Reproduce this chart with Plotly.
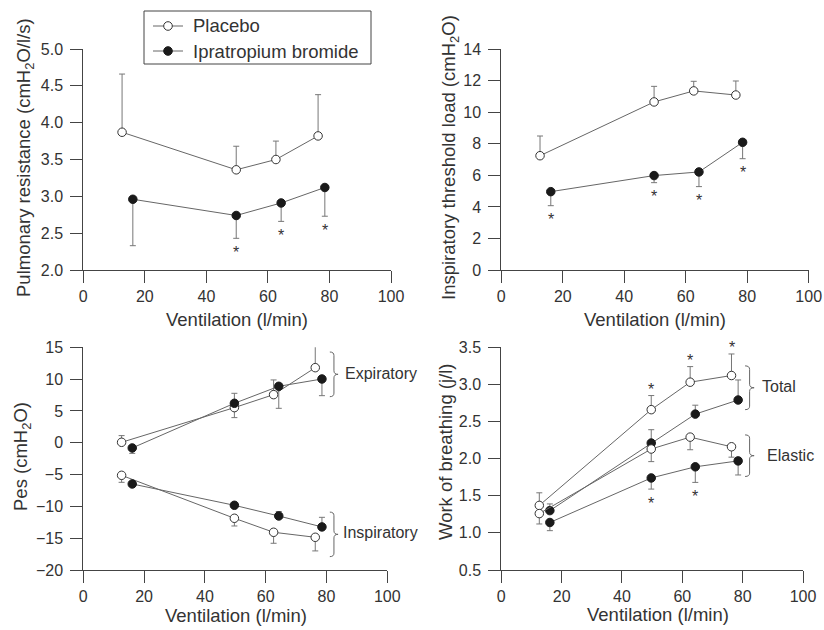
import plotly.graph_objects as go

# Ventilation (l/min) at each exercise stage
vent_placebo = [12.6, 49.7, 62.6, 76.3]
vent_ipra = [16.1, 49.7, 64.3, 78.5]

# Pulmonary resistance (cmH2O/l/s)
res_placebo = [3.87, 3.36, 3.50, 3.82]
res_placebo_err = [0.79, 0.32, 0.25, 0.56]
res_ipra = [2.96, 2.74, 2.91, 3.12]
res_ipra_err = [0.63, 0.31, 0.25, 0.39]
res_sig = [False, True, True, True]

# Inspiratory threshold load (cmH2O)
itl_placebo = [7.25, 10.66, 11.36, 11.10]
itl_placebo_err = [1.25, 0.99, 0.61, 0.89]
itl_ipra = [4.97, 5.99, 6.22, 8.10]
itl_ipra_err = [0.89, 0.45, 0.93, 1.04]
itl_sig = [True, True, True, True]

# Oesophageal pressure (cmH2O): expiratory and inspiratory peaks
pes_exp_placebo = [0.07, 5.52, 7.56, 11.80]
pes_exp_placebo_up = [1.05, 0.0, 2.31, 3.51]
pes_exp_placebo_dn = [0.0, 1.57, 0.0, 0.0]
pes_exp_ipra = [-0.82, 6.20, 8.87, 10.02]
pes_exp_ipra_up = [0.0, 1.57, 0.0, 0.0]
pes_exp_ipra_dn = [0.85, 0.0, 3.46, 2.62]
pes_insp_placebo = [-5.12, -11.87, -14.07, -14.86]
pes_insp_placebo_dn = [1.10, 1.21, 1.73, 2.14]
pes_insp_ipra = [-6.48, -9.83, -11.51, -13.23]
pes_insp_ipra_up = [0.0, 0.0, 0.70, 1.51]

# Work of breathing (J/l): total and elastic
wob_tot_placebo = [1.37, 2.66, 3.03, 3.12]
wob_tot_placebo_err = [0.17, 0.19, 0.21, 0.29]
wob_tot_ipra = [1.30, 2.21, 2.60, 2.79]
wob_tot_ipra_err = [0.09, 0.18, 0.12, 0.27]
wob_tot_sig = [False, True, True, True]
wob_el_placebo = [1.26, 2.13, 2.29, 2.16]
wob_el_placebo_err = [0.14, 0.17, 0.17, 0.14]
wob_el_ipra = [1.14, 1.74, 1.89, 1.97]
wob_el_ipra_err = [0.11, 0.15, 0.21, 0.19]
wob_el_sig = [False, True, True, False]

x_ticks = [0, 20, 40, 60, 80, 100]
legend_labels = ["Placebo", "Ipratropium bromide"]

FONT = "Liberation Sans, Arial, sans-serif"
TXT = "#333333"
AX = "#444444"
LINE = "#666666"
ERR = "#777777"
OPEN_EDGE = "#333333"
FILL = "#1a1a1a"
W, H = 824, 630

fig = go.Figure()


def err_dict(up, dn):
    return dict(type="data", symmetric=False, array=up, arrayminus=dn,
                color=ERR, thickness=1, width=3)


def series(xa, ya, x, y, up, dn, filled):
    zeros = [0.0] * len(y)
    fig.add_trace(go.Scatter(
        x=x, y=y, xaxis=xa, yaxis=ya, mode="lines+markers",
        line=dict(color=LINE, width=1),
        marker=dict(size=8.5, symbol="circle",
                    color=FILL if filled else "white",
                    line=dict(color=FILL if filled else OPEN_EDGE, width=1)),
        error_y=err_dict(up if up is not None else zeros, dn if dn is not None else zeros),
        cliponaxis=False, showlegend=False,
        name=legend_labels[1] if filled else legend_labels[0],
    ))


# Top left: pulmonary resistance
series("x", "y", vent_placebo, res_placebo, res_placebo_err, None, False)
series("x", "y", vent_ipra, res_ipra, None, res_ipra_err, True)
# Top right: inspiratory threshold load
series("x2", "y2", vent_placebo, itl_placebo, itl_placebo_err, None, False)
series("x2", "y2", vent_ipra, itl_ipra, None, itl_ipra_err, True)
# Bottom left: Pes
series("x3", "y3", vent_placebo, pes_exp_placebo, pes_exp_placebo_up, pes_exp_placebo_dn, False)
series("x3", "y3", vent_ipra, pes_exp_ipra, pes_exp_ipra_up, pes_exp_ipra_dn, True)
series("x3", "y3", vent_placebo, pes_insp_placebo, None, pes_insp_placebo_dn, False)
series("x3", "y3", vent_ipra, pes_insp_ipra, pes_insp_ipra_up, None, True)
# Bottom right: work of breathing
series("x4", "y4", vent_placebo, wob_tot_placebo, wob_tot_placebo_err, None, False)
series("x4", "y4", vent_ipra, wob_tot_ipra, wob_tot_ipra_err, None, True)
series("x4", "y4", vent_placebo, wob_el_placebo, None, wob_el_placebo_err, False)
series("x4", "y4", vent_ipra, wob_el_ipra, None, wob_el_ipra_err, True)

# Panel boxes in pixels: (left, right, top, bottom)
boxes = {
    1: (83.3, 391.0, 49.0, 270.0),
    2: (501.3, 808.7, 49.3, 270.0),
    3: (83.3, 387.3, 347.3, 570.0),
    4: (501.3, 803.0, 347.3, 570.0),
}


def px(x):
    return x / W


def py(y):
    return 1 - y / H


def dom(box):
    l, r, t, b = box
    return [px(l), px(r)], [py(b), py(t)]


axis_common = dict(
    showline=True, linecolor=AX, linewidth=1, ticks="outside", ticklen=12,
    tickcolor=AX, tickwidth=1, showgrid=False, zeroline=False,
    tickfont=dict(family=FONT, size=16, color=TXT),
)

y_specs = {
    1: dict(range=[2, 5], tickvals=[2.0, 2.5, 3.0, 3.5, 4.0, 4.5, 5.0], tickformat=".1f"),
    2: dict(range=[0, 14], tickvals=[0, 2, 4, 6, 8, 10, 12, 14]),
    3: dict(range=[-20, 15], tickvals=[-20, -15, -10, -5, 0, 5, 10, 15]),
    4: dict(range=[0.5, 3.5], tickvals=[0.5, 1.0, 1.5, 2.0, 2.5, 3.0, 3.5], tickformat=".1f"),
}

layout_axes = {}
for i in range(1, 5):
    xd, yd = dom(boxes[i])
    sx = "" if i == 1 else str(i)
    layout_axes["xaxis" + sx] = dict(axis_common, domain=xd, range=[0, 100],
                                     tickvals=x_ticks, anchor="y" + sx)
    layout_axes["yaxis" + sx] = dict(axis_common, domain=yd, anchor="x" + sx,
                                     ticklabelstandoff=4, **y_specs[i])

annotations = []
shapes = []

# Axis titles
x_titles = [(237, 319), (655, 319), (236, 615), (658, 614)]
for cx, cy in x_titles:
    annotations.append(dict(text="Ventilation (l/min)", x=px(cx), y=py(cy),
                            xref="paper", yref="paper", showarrow=False,
                            xanchor="center", yanchor="middle",
                            font=dict(family=FONT, size=18.5, color=TXT)))
y_titles = [
    ("Pulmonary resistance (cmH<sub>2</sub>O/l/s)", 25, 158),
    ("Inspiratory threshold load (cmH<sub>2</sub>O)", 450, 158),
    ("Pes (cmH<sub>2</sub>O)", 22, 457),
    ("Work of breathing (j/l)", 445, 452),
]
for t, cx, cy in y_titles:
    annotations.append(dict(text=t, x=px(cx), y=py(cy), xref="paper", yref="paper",
                            showarrow=False, textangle=-90, xanchor="center",
                            yanchor="middle", font=dict(family=FONT, size=18.5, color=TXT)))


# Significance asterisks at the end of the error bars
def stars(xa, ya, xs, ys, errs, sig, below):
    for xv, yv, ev, s in zip(xs, ys, errs, sig):
        if not s:
            continue
        annotations.append(dict(text="*", x=xv, y=yv - ev if below else yv + ev,
                                xref=xa, yref=ya, showarrow=False,
                                xanchor="center", yanchor="middle",
                                yshift=-14 if below else 6,
                                font=dict(family=FONT, size=16, color=TXT)))


stars("x", "y", vent_ipra, res_ipra, res_ipra_err, res_sig, True)
stars("x2", "y2", vent_ipra, itl_ipra, itl_ipra_err, itl_sig, True)
stars("x4", "y4", vent_placebo, wob_tot_placebo, wob_tot_placebo_err, wob_tot_sig, False)
stars("x4", "y4", vent_ipra, wob_el_ipra, wob_el_ipra_err, wob_el_sig, True)


# Curly braces grouping the curves
def brace(x0, y_top, y_bot, w):
    xm = x0 + w * 0.5
    ym = (y_top + y_bot) / 2
    r = (y_top - y_bot) * 0.08
    return (f"M {x0},{y_top} Q {xm},{y_top} {xm},{y_top - r} L {xm},{ym + r} "
            f"Q {xm},{ym} {x0 + w},{ym} Q {xm},{ym} {xm},{ym - r} "
            f"L {xm},{y_bot + r} Q {xm},{y_bot} {x0},{y_bot}")


groups = [
    ("x3", "y3", 81.1, 14.26, 7.24, 2.7, "Expiratory", 85.4, 10.96),
    ("x3", "y3", 81.1, -10.9, -17.9, 2.7, "Inspiratory", 84.7, -14.1),
    ("x4", "y4", 80.8, 3.25, 2.66, 3.0, "Total", 85.8, 2.97),
    ("x4", "y4", 80.8, 2.32, 1.76, 3.0, "Elastic", 87.4, 2.04),
]
for xa, ya, x0, yt, yb, w, label, lx, ly in groups:
    shapes.append(dict(type="path", path=brace(x0, yt, yb, w), xref=xa, yref=ya,
                       line=dict(color=LINE, width=1)))
    annotations.append(dict(text=label, x=lx, y=ly, xref=xa, yref=ya, showarrow=False,
                            xanchor="left", yanchor="middle",
                            font=dict(family=FONT, size=16, color=TXT)))

# Legend box with line-and-circle keys
shapes.append(dict(type="rect", xref="paper", yref="paper",
                   x0=px(144), x1=px(371), y0=py(64), y1=py(11),
                   line=dict(color=AX, width=1), fillcolor="white", layer="above"))
for row_y, label, filled in [(26, legend_labels[0], False), (51, legend_labels[1], True)]:
    shapes.append(dict(type="line", xref="paper", yref="paper",
                       x0=px(153), x1=px(183), y0=py(row_y), y1=py(row_y),
                       line=dict(color=LINE, width=1), layer="above"))
    r = 4.3
    shapes.append(dict(type="circle", xref="paper", yref="paper",
                       x0=px(168 - r), x1=px(168 + r), y0=py(row_y + r), y1=py(row_y - r),
                       fillcolor=FILL if filled else "white",
                       line=dict(color=FILL if filled else OPEN_EDGE, width=1), layer="above"))
    annotations.append(dict(text=label, x=px(191), y=py(row_y), xref="paper", yref="paper",
                            showarrow=False, xanchor="left", yanchor="middle",
                            font=dict(family=FONT, size=18.5, color=TXT)))

fig.update_layout(
    width=W, height=H,
    margin=dict(l=0, r=0, t=0, b=0, pad=0, autoexpand=False),
    paper_bgcolor="white", plot_bgcolor="white",
    font=dict(family=FONT, color=TXT),
    showlegend=False,
    annotations=annotations,
    shapes=shapes,
    **layout_axes,
)

fig.write_html("out.html")
